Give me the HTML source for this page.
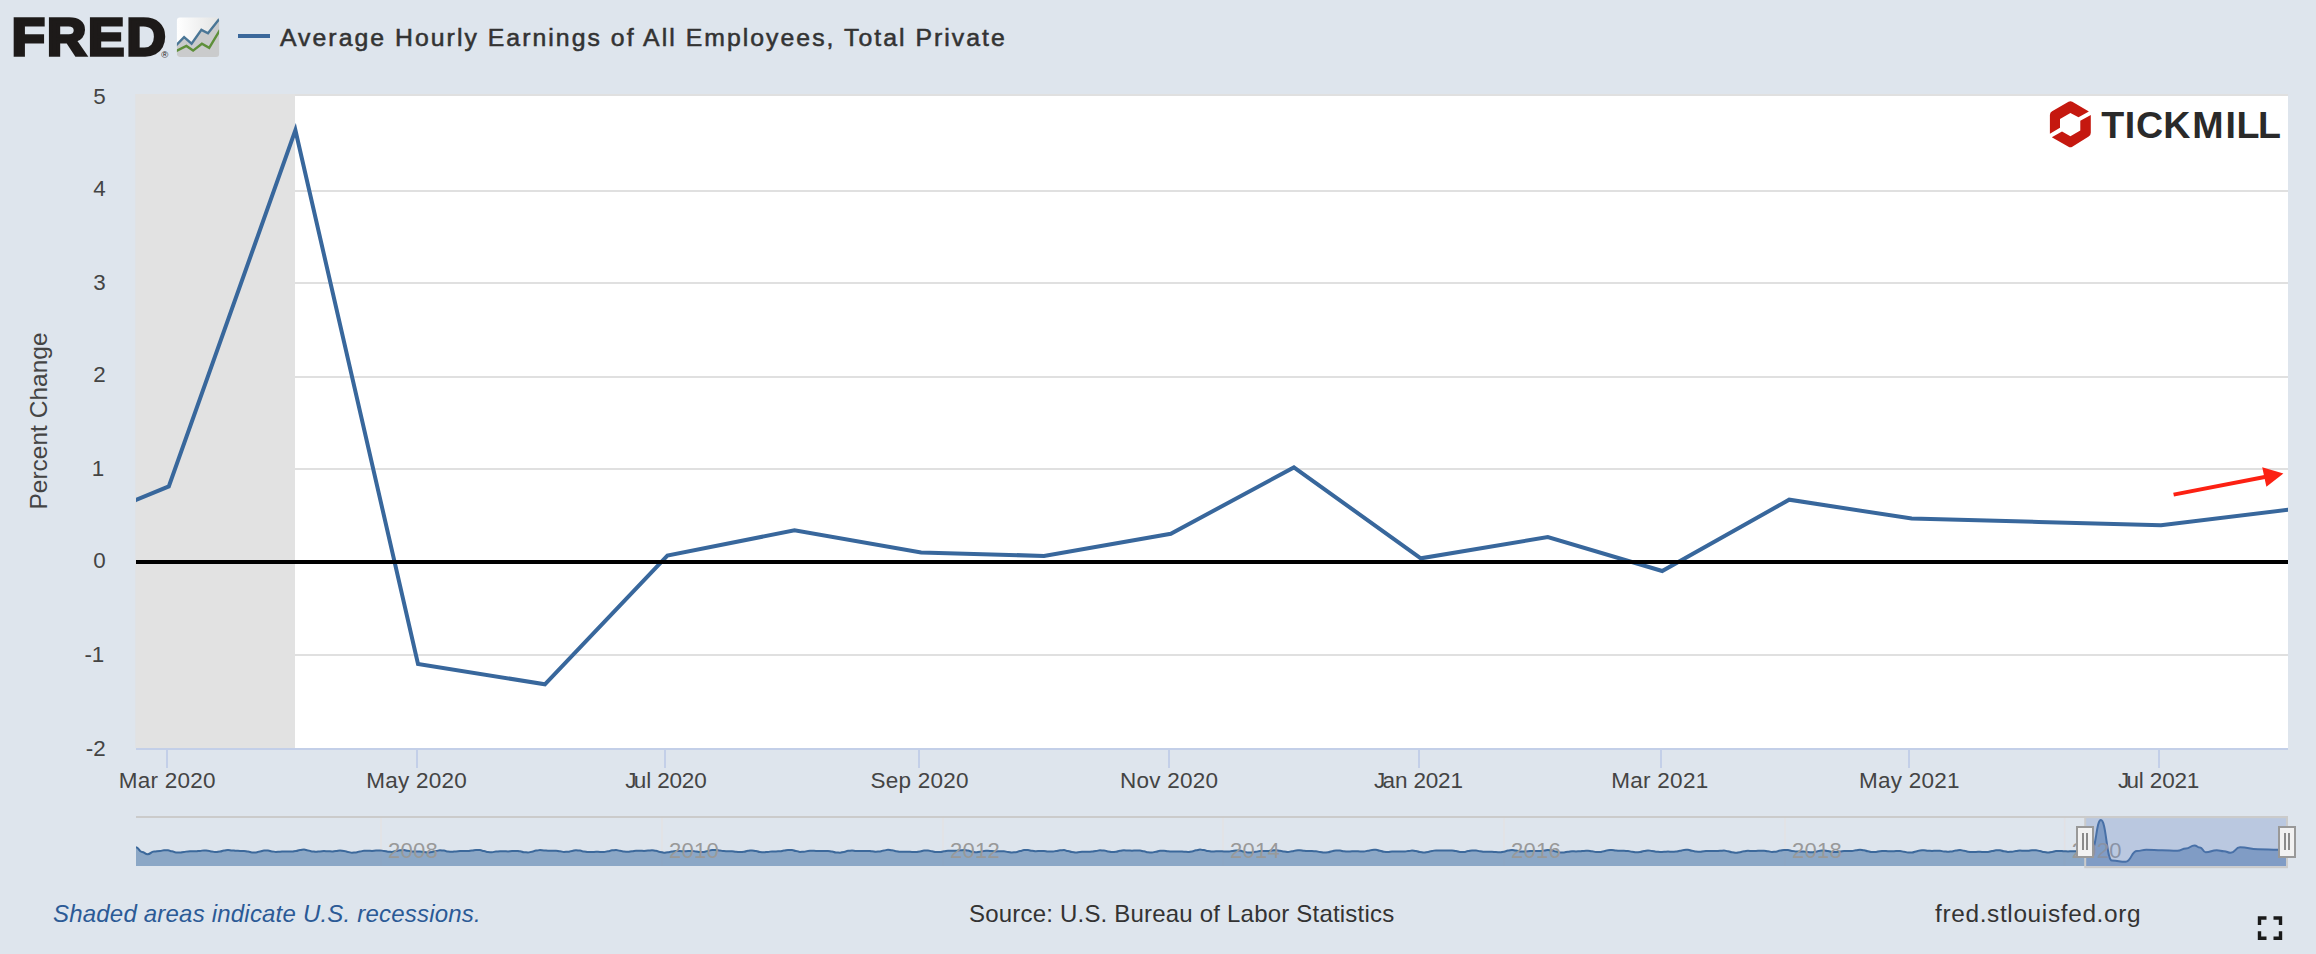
<!DOCTYPE html>
<html><head><meta charset="utf-8"><title>FRED Graph</title>
<style>
html,body{margin:0;padding:0;background:#dee5ed;}
body{width:2316px;height:954px;overflow:hidden;position:relative;font-family:"Liberation Sans",sans-serif;}
svg{position:absolute;left:0;top:0;display:block}
text{font-family:"Liberation Sans",sans-serif;}
.ax{font-size:22.5px;fill:#444;letter-spacing:0.25px}
.ay{font-size:22.4px;fill:#444}
.nv{font-size:22px;fill:#999;letter-spacing:0.3px}
.ttl{font-size:24.8px;fill:#333;letter-spacing:2.03px;stroke:#333;stroke-width:0.55px}
.yt{font-size:24.5px;fill:#444;}
.ft{font-size:24px;fill:#333;letter-spacing:0.2px}
.fti{font-size:24px;fill:#2b5a96;font-style:italic;letter-spacing:0.2px}
</style></head><body>
<svg width="2316" height="954" viewBox="0 0 2316 954">
<defs>
<linearGradient id="ig" x1="0" y1="0" x2="1" y2="0"><stop offset="0" stop-color="#ffffff"/><stop offset="0.1" stop-color="#fdfdfd"/><stop offset="1" stop-color="#e2e3e3"/></linearGradient>
<clipPath id="pc"><rect x="136" y="94" width="2152" height="654"/></clipPath>
</defs>
<rect width="2316" height="954" fill="#dee5ed"/>
<!-- plot -->
<rect x="136" y="94" width="2152" height="654" fill="#ffffff"/>
<rect x="136" y="94.0" width="2152" height="2" fill="#e0e0e0"/><rect x="136" y="190.0" width="2152" height="2" fill="#e0e0e0"/><rect x="136" y="282.0" width="2152" height="2" fill="#e0e0e0"/><rect x="136" y="376.0" width="2152" height="2" fill="#e0e0e0"/><rect x="136" y="468.0" width="2152" height="2" fill="#e0e0e0"/><rect x="136" y="654.0" width="2152" height="2" fill="#e0e0e0"/>
<rect x="135.3" y="94" width="159.7" height="654" fill="#e2e2e2"/>
<rect x="136" y="748" width="2152" height="2" fill="#c3cfe8"/>
<path d="M124.0 505.0 L136.0 500.0 L168.8 486.4 L295.4 130.2 L418.0 663.9 L544.9 684.3 L667.4 555.5 L794.5 530.3 L921.1 552.5 L1044.0 555.9 L1170.8 533.8 L1293.9 467.4 L1420.8 558.3 L1547.8 537.1 L1662.2 571.0 L1789.2 499.7 L1911.7 518.6 L2038.6 521.9 L2161.0 525.3 L2288.0 509.8 L2300.0 508.3" fill="none" stroke="#38679c" stroke-width="4" stroke-linejoin="miter" stroke-miterlimit="10" clip-path="url(#pc)"/>
<rect x="136" y="560" width="2152" height="4" fill="#000"/>
<text x="105.6" y="103.8" text-anchor="end" class="ay">5</text><text x="105.6" y="195.8" text-anchor="end" class="ay">4</text><text x="105.6" y="289.8" text-anchor="end" class="ay">3</text><text x="105.6" y="381.8" text-anchor="end" class="ay">2</text><text x="104.3" y="475.8" text-anchor="end" class="ay">1</text><text x="105.6" y="567.8" text-anchor="end" class="ay">0</text><text x="104.3" y="661.8" text-anchor="end" class="ay">-1</text><text x="105.6" y="755.8" text-anchor="end" class="ay">-2</text>
<rect x="166" y="749" width="2" height="19" fill="#c3cfe8"/><text x="167.2" y="788" text-anchor="middle" class="ax">Mar 2020</text><rect x="416" y="749" width="2" height="19" fill="#c3cfe8"/><text x="416.7" y="788" text-anchor="middle" class="ax">May 2020</text><rect x="664" y="749" width="2" height="19" fill="#c3cfe8"/><text x="666.1" y="788" text-anchor="middle" class="ax" dx="0 -3 -0.4 -0.4 -0.4 -0.4 -0.4 -0.5">Jul 2020</text><rect x="918" y="749" width="2" height="19" fill="#c3cfe8"/><text x="919.7" y="788" text-anchor="middle" class="ax">Sep 2020</text><rect x="1168" y="749" width="2" height="19" fill="#c3cfe8"/><text x="1169.1" y="788" text-anchor="middle" class="ax">Nov 2020</text><rect x="1418" y="749" width="2" height="19" fill="#c3cfe8"/><text x="1418.6" y="788" text-anchor="middle" class="ax" dx="0 -3 -0.4 -0.4 -0.4 -0.4 -0.4 -0.5">Jan 2021</text><rect x="1660" y="749" width="2" height="19" fill="#c3cfe8"/><text x="1659.9" y="788" text-anchor="middle" class="ax">Mar 2021</text><rect x="1908" y="749" width="2" height="19" fill="#c3cfe8"/><text x="1909.3" y="788" text-anchor="middle" class="ax">May 2021</text><rect x="2158" y="749" width="2" height="19" fill="#c3cfe8"/><text x="2158.8" y="788" text-anchor="middle" class="ax" dx="0 -3 -0.4 -0.4 -0.4 -0.4 -0.4 -0.5">Jul 2021</text>
<text transform="translate(46.6 421) rotate(-90)" text-anchor="middle" class="yt">Percent Change</text>
<!-- red arrow -->
<line x1="2173.6" y1="494.6" x2="2266" y2="476.7" stroke="#fc2113" stroke-width="4"/>
<polygon points="2283.4,473.4 2262.2,467.3 2266.4,486.8" fill="#fc2113"/>
<!-- header -->
<g id="fred">
<text transform="scale(1.04 1)" x="11.29 45.2 84.56 121.69" y="55.45" font-size="52.3" font-weight="700" fill="#1d1a19" stroke="#1d1a19" stroke-width="3.3" stroke-linejoin="miter">FRED</text>
<text x="161.2" y="58.2" font-size="9.5" fill="#1d1a19">®</text>
<clipPath id="ic"><rect x="176.9" y="17.5" width="42.2" height="39.5" rx="3"/></clipPath>
<g clip-path="url(#ic)">
<rect x="176" y="17" width="44" height="41" fill="url(#ig)"/>
<path d="M175 46 L176.9 44.6 L184.1 37.1 L191.6 43.7 L201.4 29.9 L208 33.3 L218.1 20.4 L221 17 L221 58 L175 58 Z" fill="#cacbcc"/>
<polyline points="175.5,46 184.1,37.1 191.6,43.7 201.4,29.9 208,33.3 218.1,20.4 220,18" fill="none" stroke="#4a7696" stroke-width="2.4" stroke-linejoin="miter"/>
<polyline points="175.5,51.3 186.4,46 193.1,50.6 201.9,43.7 209.2,47.8 219,31.6 220,30" fill="none" stroke="#5e8f3a" stroke-width="2.4" stroke-linejoin="miter"/>
</g>
</g>
<rect x="238" y="34" width="32" height="4" fill="#3b689b"/>
<text x="280" y="46.3" class="ttl">Average Hourly Earnings of All Employees, Total Private</text>
<!-- tickmill -->
<g id="tm">
<g fill="#c5180f">
<path d="M2052.1,111.3 L2068.5,101.8 Q2070.4,100.7 2072.3,101.8 L2088.9,111.5 L2078.5,117.3 L2070.4,112.9 L2060,119.1 L2060,127.7 L2049.9,133.7 L2049.9,115.1 Q2049.9,112.6 2052.1,111.3 Z"/>
<path d="M2090.8,115 L2090.8,132.8 Q2090.8,135.3 2088.7,136.6 L2072.3,146.65 Q2070.4,147.8 2068.5,146.7 L2051.8,137.3 L2062,131.5 L2070.4,136.2 L2080.3,130.5 L2080.3,120.8 Z"/>
</g>
<text x="2101.3 2124.7 2136 2163.3 2192.2 2225.6 2236.4 2258" y="137.6" font-size="37.6" font-weight="700" fill="#2a2a2a">TICKMILL</text>
</g>
<!-- navigator -->
<rect x="136" y="816" width="2152" height="2" fill="#cbcbcb"/>
<rect x="380.25" y="818" width="1.5" height="48" fill="#e6dfdf" fill-opacity="0.7"/><rect x="661.25" y="818" width="1.5" height="48" fill="#e6dfdf" fill-opacity="0.7"/><rect x="942.25" y="818" width="1.5" height="48" fill="#e6dfdf" fill-opacity="0.7"/><rect x="1222.25" y="818" width="1.5" height="48" fill="#e6dfdf" fill-opacity="0.7"/><rect x="1503.25" y="818" width="1.5" height="48" fill="#e6dfdf" fill-opacity="0.7"/><rect x="1784.25" y="818" width="1.5" height="48" fill="#e6dfdf" fill-opacity="0.7"/><rect x="2063.95" y="818" width="1.5" height="48" fill="#e6dfdf" fill-opacity="0.7"/>
<path d="M136.0 847.3 C139.0 847.3 139.0 852.0 142.0 852.0 C144.8 852.0 144.8 854.2 147.7 854.2 C150.8 854.2 150.8 851.5 154.0 851.5 C157.0 851.5 157.0 850.9 160.0 850.9 C162.0 850.9 162.0 850.3 164.0 850.3 C166.0 850.3 166.0 850.3 168.0 850.3 C170.0 850.3 170.0 851.3 172.0 851.3 C174.0 851.3 174.0 852.4 176.0 852.4 C178.0 852.4 178.0 852.6 180.0 852.6 C182.0 852.6 182.0 851.9 184.0 851.9 C186.0 851.9 186.0 851.4 188.0 851.4 C190.0 851.4 190.0 851.3 192.0 851.3 C194.0 851.3 194.0 851.3 196.0 851.3 C198.0 851.3 198.0 850.9 200.0 850.9 C202.0 850.9 202.0 850.4 204.0 850.4 C206.0 850.4 206.0 850.7 208.0 850.7 C210.0 850.7 210.0 851.6 212.0 851.6 C214.0 851.6 214.0 852.1 216.0 852.1 C218.0 852.1 218.0 851.5 220.0 851.5 C222.0 851.5 222.0 850.5 224.0 850.5 C226.0 850.5 226.0 850.0 228.0 850.0 C230.0 850.0 230.0 850.4 232.0 850.4 C234.0 850.4 234.0 850.8 236.0 850.8 C238.0 850.8 238.0 850.9 240.0 850.9 C242.0 850.9 242.0 851.0 244.0 851.0 C246.0 851.0 246.0 851.6 248.0 851.6 C250.0 851.6 250.0 852.4 252.0 852.4 C254.0 852.4 254.0 852.4 256.0 852.4 C258.0 852.4 258.0 851.4 260.0 851.4 C262.0 851.4 262.0 850.6 264.0 850.6 C266.0 850.6 266.0 850.6 268.0 850.6 C270.0 850.6 270.0 851.4 272.0 851.4 C274.0 851.4 274.0 851.9 276.0 851.9 C278.0 851.9 278.0 851.7 280.0 851.7 C282.0 851.7 282.0 851.4 284.0 851.4 C286.0 851.4 286.0 851.6 288.0 851.6 C290.0 851.6 290.0 851.6 292.0 851.6 C294.0 851.6 294.0 851.0 296.0 851.0 C298.0 851.0 298.0 850.0 300.0 850.0 C302.0 850.0 302.0 849.6 304.0 849.6 C306.0 849.6 306.0 850.4 308.0 850.4 C310.0 850.4 310.0 851.4 312.0 851.4 C314.0 851.4 314.0 851.8 316.0 851.8 C318.0 851.8 318.0 851.4 320.0 851.4 C322.0 851.4 322.0 851.1 324.0 851.1 C326.0 851.1 326.0 851.3 328.0 851.3 C330.0 851.3 330.0 851.4 332.0 851.4 C334.0 851.4 334.0 851.0 336.0 851.0 C338.0 851.0 338.0 850.6 340.0 850.6 C342.0 850.6 342.0 850.9 344.0 850.9 C346.0 850.9 346.0 852.0 348.0 852.0 C350.0 852.0 350.0 852.7 352.0 852.7 C354.0 852.7 354.0 852.4 356.0 852.4 C358.0 852.4 358.0 851.4 360.0 851.4 C362.0 851.4 362.0 850.8 364.0 850.8 C366.0 850.8 366.0 850.8 368.0 850.8 C370.0 850.8 370.0 850.9 372.0 850.9 C374.0 850.9 374.0 850.6 376.0 850.6 C378.0 850.6 378.0 850.4 380.0 850.4 C382.0 850.4 382.0 850.9 384.0 850.9 C386.0 850.9 386.0 851.7 388.0 851.7 C390.0 851.7 390.0 851.9 392.0 851.9 C394.0 851.9 394.0 851.1 396.0 851.1 C398.0 851.1 398.0 850.2 400.0 850.2 C402.0 850.2 402.0 850.1 404.0 850.1 C406.0 850.1 406.0 850.8 408.0 850.8 C410.0 850.8 410.0 851.4 412.0 851.4 C414.0 851.4 414.0 851.5 416.0 851.5 C418.0 851.5 418.0 851.6 420.0 851.6 C422.0 851.6 422.0 852.0 424.0 852.0 C426.0 852.0 426.0 852.4 428.0 852.4 C430.0 852.4 430.0 852.0 432.0 852.0 C434.0 852.0 434.0 850.9 436.0 850.9 C438.0 850.9 438.0 850.3 440.0 850.3 C442.0 850.3 442.0 850.6 444.0 850.6 C446.0 850.6 446.0 851.5 448.0 851.5 C450.0 851.5 450.0 851.8 452.0 851.8 C454.0 851.8 454.0 851.4 456.0 851.4 C458.0 851.4 458.0 851.1 460.0 851.1 C462.0 851.1 462.0 851.1 464.0 851.1 C466.0 851.1 466.0 851.1 468.0 851.1 C470.0 851.1 470.0 850.5 472.0 850.5 C474.0 850.5 474.0 849.9 476.0 849.9 C478.0 849.9 478.0 850.0 480.0 850.0 C482.0 850.0 482.0 851.1 484.0 851.1 C486.0 851.1 486.0 852.1 488.0 852.1 C490.0 852.1 490.0 852.2 492.0 852.2 C494.0 852.2 494.0 851.6 496.0 851.6 C498.0 851.6 498.0 851.2 500.0 851.2 C502.0 851.2 502.0 851.3 504.0 851.3 C506.0 851.3 506.0 851.4 508.0 851.4 C510.0 851.4 510.0 851.1 512.0 851.1 C514.0 851.1 514.0 850.9 516.0 850.9 C518.0 850.9 518.0 851.3 520.0 851.3 C522.0 851.3 522.0 852.2 524.0 852.2 C526.0 852.2 526.0 852.5 528.0 852.5 C530.0 852.5 530.0 851.7 532.0 851.7 C534.0 851.7 534.0 850.6 536.0 850.6 C538.0 850.6 538.0 850.1 540.0 850.1 C542.0 850.1 542.0 850.4 544.0 850.4 C546.0 850.4 546.0 850.7 548.0 850.7 C550.0 850.7 550.0 850.7 552.0 850.7 C554.0 850.7 554.0 850.7 556.0 850.7 C558.0 850.7 558.0 851.3 560.0 851.3 C562.0 851.3 562.0 851.9 564.0 851.9 C566.0 851.9 566.0 851.8 568.0 851.8 C570.0 851.8 570.0 850.9 572.0 850.9 C574.0 850.9 574.0 850.2 576.0 850.2 C578.0 850.2 578.0 850.6 580.0 850.6 C582.0 850.6 582.0 851.5 584.0 851.5 C586.0 851.5 586.0 852.1 588.0 852.1 C590.0 852.1 590.0 852.0 592.0 852.0 C594.0 852.0 594.0 851.8 596.0 851.8 C598.0 851.8 598.0 851.9 600.0 851.9 C602.0 851.9 602.0 852.0 604.0 852.0 C606.0 852.0 606.0 851.3 608.0 851.3 C610.0 851.3 610.0 850.3 612.0 850.3 C614.0 850.3 614.0 850.0 616.0 850.0 C618.0 850.0 618.0 850.7 620.0 850.7 C622.0 850.7 622.0 851.6 624.0 851.6 C626.0 851.6 626.0 851.7 628.0 851.7 C630.0 851.7 630.0 851.2 632.0 851.2 C634.0 851.2 634.0 850.7 636.0 850.7 C638.0 850.7 638.0 850.8 640.0 850.8 C642.0 850.8 642.0 850.9 644.0 850.9 C646.0 850.9 646.0 850.6 648.0 850.6 C650.0 850.6 650.0 850.3 652.0 850.3 C654.0 850.3 654.0 850.8 656.0 850.8 C658.0 850.8 658.0 851.9 660.0 851.9 C662.0 851.9 662.0 852.7 664.0 852.7 C666.0 852.7 666.0 852.3 668.0 852.3 C670.0 852.3 670.0 851.4 672.0 851.4 C674.0 851.4 674.0 851.0 676.0 851.0 C678.0 851.0 678.0 851.1 680.0 851.1 C682.0 851.1 682.0 851.3 684.0 851.3 C686.0 851.3 686.0 851.1 688.0 851.1 C690.0 851.1 690.0 850.9 692.0 850.9 C694.0 850.9 694.0 851.4 696.0 851.4 C698.0 851.4 698.0 852.0 700.0 852.0 C702.0 852.0 702.0 851.9 704.0 851.9 C706.0 851.9 706.0 850.9 708.0 850.9 C710.0 850.9 710.0 849.9 712.0 849.9 C714.0 849.9 714.0 849.9 716.0 849.9 C718.0 849.9 718.0 850.6 720.0 850.6 C722.0 850.6 722.0 851.1 724.0 851.1 C726.0 851.1 726.0 851.2 728.0 851.2 C730.0 851.2 730.0 851.2 732.0 851.2 C734.0 851.2 734.0 851.7 736.0 851.7 C738.0 851.7 738.0 852.1 740.0 852.1 C742.0 852.1 742.0 851.7 744.0 851.7 C746.0 851.7 746.0 850.8 748.0 850.8 C750.0 850.8 750.0 850.4 752.0 850.4 C754.0 850.4 754.0 851.0 756.0 851.0 C758.0 851.0 758.0 852.0 760.0 852.0 C762.0 852.0 762.0 852.3 764.0 852.3 C766.0 852.3 766.0 851.9 768.0 851.9 C770.0 851.9 770.0 851.4 772.0 851.4 C774.0 851.4 774.0 851.4 776.0 851.4 C778.0 851.4 778.0 851.3 780.0 851.3 C782.0 851.3 782.0 850.6 784.0 850.6 C786.0 850.6 786.0 849.9 788.0 849.9 C790.0 849.9 790.0 850.0 792.0 850.0 C794.0 850.0 794.0 851.0 796.0 851.0 C798.0 851.0 798.0 851.9 800.0 851.9 C802.0 851.9 802.0 851.8 804.0 851.8 C806.0 851.8 806.0 851.0 808.0 851.0 C810.0 851.0 810.0 850.7 812.0 850.7 C814.0 850.7 814.0 850.9 816.0 850.9 C818.0 850.9 818.0 851.1 820.0 851.1 C822.0 851.1 822.0 850.9 824.0 850.9 C826.0 850.9 826.0 850.9 828.0 850.9 C830.0 850.9 830.0 851.5 832.0 851.5 C834.0 851.5 834.0 852.5 836.0 852.5 C838.0 852.5 838.0 852.7 840.0 852.7 C842.0 852.7 842.0 851.9 844.0 851.9 C846.0 851.9 846.0 850.8 848.0 850.8 C850.0 850.8 850.0 850.5 852.0 850.5 C854.0 850.5 854.0 850.9 856.0 850.9 C858.0 850.9 858.0 851.1 860.0 851.1 C862.0 851.1 862.0 851.0 864.0 851.0 C866.0 851.0 866.0 850.9 868.0 850.9 C870.0 850.9 870.0 851.3 872.0 851.3 C874.0 851.3 874.0 851.7 876.0 851.7 C878.0 851.7 878.0 851.4 880.0 851.4 C882.0 851.4 882.0 850.4 884.0 850.4 C886.0 850.4 886.0 849.8 888.0 849.8 C890.0 849.8 890.0 850.2 892.0 850.2 C894.0 850.2 894.0 851.2 896.0 851.2 C898.0 851.2 898.0 851.8 900.0 851.8 C902.0 851.8 902.0 851.7 904.0 851.7 C906.0 851.7 906.0 851.7 908.0 851.7 C910.0 851.7 910.0 851.9 912.0 851.9 C914.0 851.9 914.0 852.0 916.0 852.0 C918.0 852.0 918.0 851.4 920.0 851.4 C922.0 851.4 922.0 850.6 924.0 850.6 C926.0 850.6 926.0 850.5 928.0 850.5 C930.0 850.5 930.0 851.3 932.0 851.3 C934.0 851.3 934.0 852.1 936.0 852.1 C938.0 852.1 938.0 852.1 940.0 852.1 C942.0 852.1 942.0 851.3 944.0 851.3 C946.0 851.3 946.0 850.8 948.0 850.8 C950.0 850.8 950.0 850.8 952.0 850.8 C954.0 850.8 954.0 850.7 956.0 850.7 C958.0 850.7 958.0 850.3 960.0 850.3 C962.0 850.3 962.0 850.0 964.0 850.0 C966.0 850.0 966.0 850.5 968.0 850.5 C970.0 850.5 970.0 851.7 972.0 851.7 C974.0 851.7 974.0 852.3 976.0 852.3 C978.0 852.3 978.0 851.8 980.0 851.8 C982.0 851.8 982.0 851.0 984.0 851.0 C986.0 851.0 986.0 850.7 988.0 850.7 C990.0 850.7 990.0 851.1 992.0 851.1 C994.0 851.1 994.0 851.4 996.0 851.4 C998.0 851.4 998.0 851.3 1000.0 851.3 C1002.0 851.3 1002.0 851.3 1004.0 851.3 C1006.0 851.3 1006.0 851.9 1008.0 851.9 C1010.0 851.9 1010.0 852.5 1012.0 852.5 C1014.0 852.5 1014.0 852.2 1016.0 852.2 C1018.0 852.2 1018.0 851.1 1020.0 851.1 C1022.0 851.1 1022.0 850.1 1024.0 850.1 C1026.0 850.1 1026.0 850.1 1028.0 850.1 C1030.0 850.1 1030.0 850.8 1032.0 850.8 C1034.0 850.8 1034.0 851.2 1036.0 851.2 C1038.0 851.2 1038.0 851.0 1040.0 851.0 C1042.0 851.0 1042.0 851.0 1044.0 851.0 C1046.0 851.0 1046.0 851.4 1048.0 851.4 C1050.0 851.4 1050.0 851.6 1052.0 851.6 C1054.0 851.6 1054.0 851.1 1056.0 851.1 C1058.0 851.1 1058.0 850.3 1060.0 850.3 C1062.0 850.3 1062.0 850.1 1064.0 850.1 C1066.0 850.1 1066.0 851.0 1068.0 851.0 C1070.0 851.0 1070.0 852.0 1072.0 852.0 C1074.0 852.0 1074.0 852.4 1076.0 852.4 C1078.0 852.4 1078.0 852.0 1080.0 852.0 C1082.0 852.0 1082.0 851.7 1084.0 851.7 C1086.0 851.7 1086.0 851.7 1088.0 851.7 C1090.0 851.7 1090.0 851.6 1092.0 851.6 C1094.0 851.6 1094.0 850.9 1096.0 850.9 C1098.0 850.9 1098.0 850.3 1100.0 850.3 C1102.0 850.3 1102.0 850.5 1104.0 850.5 C1106.0 850.5 1106.0 851.4 1108.0 851.4 C1110.0 851.4 1110.0 852.1 1112.0 852.1 C1114.0 852.1 1114.0 851.7 1116.0 851.7 C1118.0 851.7 1118.0 850.8 1120.0 850.8 C1122.0 850.8 1122.0 850.3 1124.0 850.3 C1126.0 850.3 1126.0 850.5 1128.0 850.5 C1130.0 850.5 1130.0 850.7 1132.0 850.7 C1134.0 850.7 1134.0 850.5 1136.0 850.5 C1138.0 850.5 1138.0 850.6 1140.0 850.6 C1142.0 850.6 1142.0 851.3 1144.0 851.3 C1146.0 851.3 1146.0 852.3 1148.0 852.3 C1150.0 852.3 1150.0 852.5 1152.0 852.5 C1154.0 852.5 1154.0 851.7 1156.0 851.7 C1158.0 851.7 1158.0 850.8 1160.0 850.8 C1162.0 850.8 1162.0 850.7 1164.0 850.7 C1166.0 850.7 1166.0 851.3 1168.0 851.3 C1170.0 851.3 1170.0 851.6 1172.0 851.6 C1174.0 851.6 1174.0 851.5 1176.0 851.5 C1178.0 851.5 1178.0 851.4 1180.0 851.4 C1182.0 851.4 1182.0 851.7 1184.0 851.7 C1186.0 851.7 1186.0 852.0 1188.0 852.0 C1190.0 852.0 1190.0 851.4 1192.0 851.4 C1194.0 851.4 1194.0 850.3 1196.0 850.3 C1198.0 850.3 1198.0 849.6 1200.0 849.6 C1202.0 849.6 1202.0 850.1 1204.0 850.1 C1206.0 850.1 1206.0 851.1 1208.0 851.1 C1210.0 851.1 1210.0 851.5 1212.0 851.5 C1214.0 851.5 1214.0 851.3 1216.0 851.3 C1218.0 851.3 1218.0 851.2 1220.0 851.2 C1222.0 851.2 1222.0 851.5 1224.0 851.5 C1226.0 851.5 1226.0 851.6 1228.0 851.6 C1230.0 851.6 1230.0 851.1 1232.0 851.1 C1234.0 851.1 1234.0 850.5 1236.0 850.5 C1238.0 850.5 1238.0 850.6 1240.0 850.6 C1242.0 850.6 1242.0 851.7 1244.0 851.7 C1246.0 851.7 1246.0 852.5 1248.0 852.5 C1250.0 852.5 1250.0 852.4 1252.0 852.4 C1254.0 852.4 1254.0 851.7 1256.0 851.7 C1258.0 851.7 1258.0 851.1 1260.0 851.1 C1262.0 851.1 1262.0 851.1 1264.0 851.1 C1266.0 851.1 1266.0 851.0 1268.0 851.0 C1270.0 851.0 1270.0 850.5 1272.0 850.5 C1274.0 850.5 1274.0 850.2 1276.0 850.2 C1278.0 850.2 1278.0 850.7 1280.0 850.7 C1282.0 850.7 1282.0 851.6 1284.0 851.6 C1286.0 851.6 1286.0 852.0 1288.0 852.0 C1290.0 852.0 1290.0 851.3 1292.0 851.3 C1294.0 851.3 1294.0 850.4 1296.0 850.4 C1298.0 850.4 1298.0 850.2 1300.0 850.2 C1302.0 850.2 1302.0 850.7 1304.0 850.7 C1306.0 850.7 1306.0 851.1 1308.0 851.1 C1310.0 851.1 1310.0 851.1 1312.0 851.1 C1314.0 851.1 1314.0 851.3 1316.0 851.3 C1318.0 851.3 1318.0 852.0 1320.0 852.0 C1322.0 852.0 1322.0 852.6 1324.0 852.6 C1326.0 852.6 1326.0 852.3 1328.0 852.3 C1330.0 852.3 1330.0 851.2 1332.0 851.2 C1334.0 851.2 1334.0 850.4 1336.0 850.4 C1338.0 850.4 1338.0 850.6 1340.0 850.6 C1342.0 850.6 1342.0 851.3 1344.0 851.3 C1346.0 851.3 1346.0 851.6 1348.0 851.6 C1350.0 851.6 1350.0 851.3 1352.0 851.3 C1354.0 851.3 1354.0 851.2 1356.0 851.2 C1358.0 851.2 1358.0 851.4 1360.0 851.4 C1362.0 851.4 1362.0 851.4 1364.0 851.4 C1366.0 851.4 1366.0 850.8 1368.0 850.8 C1370.0 850.8 1370.0 849.9 1372.0 849.9 C1374.0 849.9 1374.0 849.8 1376.0 849.8 C1378.0 849.8 1378.0 850.7 1380.0 850.7 C1382.0 850.7 1382.0 851.8 1384.0 851.8 C1386.0 851.8 1386.0 852.0 1388.0 852.0 C1390.0 852.0 1390.0 851.6 1392.0 851.6 C1394.0 851.6 1394.0 851.4 1396.0 851.4 C1398.0 851.4 1398.0 851.6 1400.0 851.6 C1402.0 851.6 1402.0 851.6 1404.0 851.6 C1406.0 851.6 1406.0 851.1 1408.0 851.1 C1410.0 851.1 1410.0 850.6 1412.0 850.6 C1414.0 850.6 1414.0 851.0 1416.0 851.0 C1418.0 851.0 1418.0 852.0 1420.0 852.0 C1422.0 852.0 1422.0 852.5 1424.0 852.5 C1426.0 852.5 1426.0 852.0 1428.0 852.0 C1430.0 852.0 1430.0 850.9 1432.0 850.9 C1434.0 850.9 1434.0 850.4 1436.0 850.4 C1438.0 850.4 1438.0 850.6 1440.0 850.6 C1442.0 850.6 1442.0 850.6 1444.0 850.6 C1446.0 850.6 1446.0 850.4 1448.0 850.4 C1450.0 850.4 1450.0 850.4 1452.0 850.4 C1454.0 850.4 1454.0 851.1 1456.0 851.1 C1458.0 851.1 1458.0 851.9 1460.0 851.9 C1462.0 851.9 1462.0 852.0 1464.0 852.0 C1466.0 852.0 1466.0 851.1 1468.0 851.1 C1470.0 851.1 1470.0 850.4 1472.0 850.4 C1474.0 850.4 1474.0 850.5 1476.0 850.5 C1478.0 850.5 1478.0 851.2 1480.0 851.2 C1482.0 851.2 1482.0 851.7 1484.0 851.7 C1486.0 851.7 1486.0 851.7 1488.0 851.7 C1490.0 851.7 1490.0 851.7 1492.0 851.7 C1494.0 851.7 1494.0 852.1 1496.0 852.1 C1498.0 852.1 1498.0 852.3 1500.0 852.3 C1502.0 852.3 1502.0 851.7 1504.0 851.7 C1506.0 851.7 1506.0 850.5 1508.0 850.5 C1510.0 850.5 1510.0 850.0 1512.0 850.0 C1514.0 850.0 1514.0 850.5 1516.0 850.5 C1518.0 850.5 1518.0 851.4 1520.0 851.4 C1522.0 851.4 1522.0 851.6 1524.0 851.6 C1526.0 851.6 1526.0 851.2 1528.0 851.2 C1530.0 851.2 1530.0 850.9 1532.0 850.9 C1534.0 850.9 1534.0 851.1 1536.0 851.1 C1538.0 851.1 1538.0 851.1 1540.0 851.1 C1542.0 851.1 1542.0 850.6 1544.0 850.6 C1546.0 850.6 1546.0 850.0 1548.0 850.0 C1550.0 850.0 1550.0 850.4 1552.0 850.4 C1554.0 850.4 1554.0 851.6 1556.0 851.6 C1558.0 851.6 1558.0 852.5 1560.0 852.5 C1562.0 852.5 1562.0 852.4 1564.0 852.4 C1566.0 852.4 1566.0 851.7 1568.0 851.7 C1570.0 851.7 1570.0 851.3 1572.0 851.3 C1574.0 851.3 1574.0 851.4 1576.0 851.4 C1578.0 851.4 1578.0 851.3 1580.0 851.3 C1582.0 851.3 1582.0 850.9 1584.0 850.9 C1586.0 850.9 1586.0 850.7 1588.0 850.7 C1590.0 850.7 1590.0 851.2 1592.0 851.2 C1594.0 851.2 1594.0 852.0 1596.0 852.0 C1598.0 852.0 1598.0 852.1 1600.0 852.1 C1602.0 852.1 1602.0 851.2 1604.0 851.2 C1606.0 851.2 1606.0 850.2 1608.0 850.2 C1610.0 850.2 1610.0 850.0 1612.0 850.0 C1614.0 850.0 1614.0 850.5 1616.0 850.5 C1618.0 850.5 1618.0 850.8 1620.0 850.8 C1622.0 850.8 1622.0 850.8 1624.0 850.8 C1626.0 850.8 1626.0 851.0 1628.0 851.0 C1630.0 851.0 1630.0 851.7 1632.0 851.7 C1634.0 851.7 1634.0 852.3 1636.0 852.3 C1638.0 852.3 1638.0 852.0 1640.0 852.0 C1642.0 852.0 1642.0 851.0 1644.0 851.0 C1646.0 851.0 1646.0 850.4 1648.0 850.4 C1650.0 850.4 1650.0 850.9 1652.0 850.9 C1654.0 850.9 1654.0 851.7 1656.0 851.7 C1658.0 851.7 1658.0 852.0 1660.0 852.0 C1662.0 852.0 1662.0 851.8 1664.0 851.8 C1666.0 851.8 1666.0 851.6 1668.0 851.6 C1670.0 851.6 1670.0 851.7 1672.0 851.7 C1674.0 851.7 1674.0 851.6 1676.0 851.6 C1678.0 851.6 1678.0 850.8 1680.0 850.8 C1682.0 850.8 1682.0 849.9 1684.0 849.9 C1686.0 849.9 1686.0 849.8 1688.0 849.8 C1690.0 849.8 1690.0 850.7 1692.0 850.7 C1694.0 850.7 1694.0 851.6 1696.0 851.6 C1698.0 851.6 1698.0 851.7 1700.0 851.7 C1702.0 851.7 1702.0 851.2 1704.0 851.2 C1706.0 851.2 1706.0 850.9 1708.0 850.9 C1710.0 850.9 1710.0 851.1 1712.0 851.1 C1714.0 851.1 1714.0 851.1 1716.0 851.1 C1718.0 851.1 1718.0 850.8 1720.0 850.8 C1722.0 850.8 1722.0 850.6 1724.0 850.6 C1726.0 850.6 1726.0 851.2 1728.0 851.2 C1730.0 851.2 1730.0 852.3 1732.0 852.3 C1734.0 852.3 1734.0 852.8 1736.0 852.8 C1738.0 852.8 1738.0 852.2 1740.0 852.2 C1742.0 852.2 1742.0 851.2 1744.0 851.2 C1746.0 851.2 1746.0 850.8 1748.0 850.8 C1750.0 850.8 1750.0 851.0 1752.0 851.0 C1754.0 851.0 1754.0 851.0 1756.0 851.0 C1758.0 851.0 1758.0 850.7 1760.0 850.7 C1762.0 850.7 1762.0 850.7 1764.0 850.7 C1766.0 850.7 1766.0 851.3 1768.0 851.3 C1770.0 851.3 1770.0 851.9 1772.0 851.9 C1774.0 851.9 1774.0 851.7 1776.0 851.7 C1778.0 851.7 1778.0 850.6 1780.0 850.6 C1782.0 850.6 1782.0 849.9 1784.0 849.9 C1786.0 849.9 1786.0 850.1 1788.0 850.1 C1790.0 850.1 1790.0 850.9 1792.0 850.9 C1794.0 850.9 1794.0 851.4 1796.0 851.4 C1798.0 851.4 1798.0 851.4 1800.0 851.4 C1802.0 851.4 1802.0 851.6 1804.0 851.6 C1806.0 851.6 1806.0 852.1 1808.0 852.1 C1810.0 852.1 1810.0 852.3 1812.0 852.3 C1814.0 852.3 1814.0 851.7 1816.0 851.7 C1818.0 851.7 1818.0 850.7 1820.0 850.7 C1822.0 850.7 1822.0 850.4 1824.0 850.4 C1826.0 850.4 1826.0 851.1 1828.0 851.1 C1830.0 851.1 1830.0 851.9 1832.0 851.9 C1834.0 851.9 1834.0 852.0 1836.0 852.0 C1838.0 852.0 1838.0 851.5 1840.0 851.5 C1842.0 851.5 1842.0 851.1 1844.0 851.1 C1846.0 851.1 1846.0 851.1 1848.0 851.1 C1850.0 851.1 1850.0 851.0 1852.0 851.0 C1854.0 851.0 1854.0 850.3 1856.0 850.3 C1858.0 850.3 1858.0 849.8 1860.0 849.8 C1862.0 849.8 1862.0 850.2 1864.0 850.2 C1866.0 850.2 1866.0 851.3 1868.0 851.3 C1870.0 851.3 1870.0 852.1 1872.0 852.1 C1874.0 852.1 1874.0 851.9 1876.0 851.9 C1878.0 851.9 1878.0 851.2 1880.0 851.2 C1882.0 851.2 1882.0 850.9 1884.0 850.9 C1886.0 850.9 1886.0 851.2 1888.0 851.2 C1890.0 851.2 1890.0 851.3 1892.0 851.3 C1894.0 851.3 1894.0 851.1 1896.0 851.1 C1898.0 851.1 1898.0 851.0 1900.0 851.0 C1902.0 851.0 1902.0 851.7 1904.0 851.7 C1906.0 851.7 1906.0 852.5 1908.0 852.5 C1910.0 852.5 1910.0 852.5 1912.0 852.5 C1914.0 852.5 1914.0 851.5 1916.0 851.5 C1918.0 851.5 1918.0 850.4 1920.0 850.4 C1922.0 850.4 1922.0 850.3 1924.0 850.3 C1926.0 850.3 1926.0 850.7 1928.0 850.7 C1930.0 850.7 1930.0 850.9 1932.0 850.9 C1934.0 850.9 1934.0 850.8 1936.0 850.8 C1938.0 850.8 1938.0 850.8 1940.0 850.8 C1942.0 850.8 1942.0 851.4 1944.0 851.4 C1946.0 851.4 1946.0 851.8 1948.0 851.8 C1950.0 851.8 1950.0 851.4 1952.0 851.4 C1954.0 851.4 1954.0 850.4 1956.0 850.4 C1958.0 850.4 1958.0 850.0 1960.0 850.0 C1962.0 850.0 1962.0 850.7 1964.0 850.7 C1966.0 850.7 1966.0 851.7 1968.0 851.7 C1970.0 851.7 1970.0 852.1 1972.0 852.1 C1974.0 852.1 1974.0 851.9 1976.0 851.9 C1978.0 851.9 1978.0 851.8 1980.0 851.8 C1982.0 851.8 1982.0 852.0 1984.0 852.0 C1986.0 852.0 1986.0 851.9 1988.0 851.9 C1990.0 851.9 1990.0 851.1 1992.0 851.1 C1994.0 851.1 1994.0 850.3 1996.0 850.3 C1998.0 850.3 1998.0 850.3 2000.0 850.3 C2002.0 850.3 2002.0 851.2 2004.0 851.2 C2006.0 851.2 2006.0 851.9 2008.0 851.9 C2010.0 851.9 2010.0 851.7 2012.0 851.7 C2014.0 851.7 2014.0 851.0 2016.0 851.0 C2018.0 851.0 2018.0 850.6 2020.0 850.6 C2022.0 850.6 2022.0 850.7 2024.0 850.7 C2026.0 850.7 2026.0 850.7 2028.0 850.7 C2030.0 850.7 2030.0 850.3 2032.0 850.3 C2034.0 850.3 2034.0 850.2 2036.0 850.2 C2038.0 850.2 2038.0 851.0 2040.0 851.0 C2042.0 851.0 2042.0 852.1 2044.0 852.1 C2046.0 852.1 2046.0 852.5 2048.0 852.5 C2050.0 852.5 2050.0 851.9 2052.0 851.9 C2054.0 851.9 2054.0 851.1 2056.0 851.1 C2058.0 851.1 2058.0 850.9 2060.0 850.9 C2062.0 850.9 2062.0 851.3 2064.0 851.3 C2066.0 851.3 2066.0 851.4 2068.0 851.4 C2070.0 851.4 2070.0 851.2 2072.0 851.2 C2074.0 851.2 2074.0 851.2 2076.0 851.2 C2080.0 851.2 2080.0 850.3 2084.0 850.3 C2087.8 850.3 2087.8 850.0 2091.5 850.0 C2096.2 850.0 2096.2 820.1 2100.9 820.1 C2106.4 820.1 2106.4 860.6 2112.0 860.6 C2118.8 860.6 2118.8 861.7 2125.7 861.7 C2131.3 861.7 2131.3 851.0 2137.0 851.0 C2141.7 851.0 2141.7 849.7 2146.3 849.7 C2154.2 849.7 2154.2 850.3 2162.0 850.3 C2169.7 850.3 2169.7 850.8 2177.3 850.8 C2181.7 850.8 2181.7 848.5 2186.0 848.5 C2190.2 848.5 2190.2 845.4 2194.5 845.4 C2197.2 845.4 2197.2 847.5 2200.0 847.5 C2202.8 847.5 2202.8 852.2 2205.6 852.2 C2211.2 852.2 2211.2 850.2 2216.8 850.2 C2220.4 850.2 2220.4 851.2 2224.0 851.2 C2227.3 851.2 2227.3 852.8 2230.6 852.8 C2235.3 852.8 2235.3 847.3 2240.0 847.3 C2249.0 847.3 2249.0 849.3 2258.0 849.3 C2268.2 849.3 2268.2 849.8 2278.4 849.8 C2283.2 849.8 2283.2 849.8 2288.0 849.8 L2288 866 L136 866 Z" fill="#6f92b8" fill-opacity="0.75"/>
<path d="M136.0 847.3 C139.0 847.3 139.0 852.0 142.0 852.0 C144.8 852.0 144.8 854.2 147.7 854.2 C150.8 854.2 150.8 851.5 154.0 851.5 C157.0 851.5 157.0 850.9 160.0 850.9 C162.0 850.9 162.0 850.3 164.0 850.3 C166.0 850.3 166.0 850.3 168.0 850.3 C170.0 850.3 170.0 851.3 172.0 851.3 C174.0 851.3 174.0 852.4 176.0 852.4 C178.0 852.4 178.0 852.6 180.0 852.6 C182.0 852.6 182.0 851.9 184.0 851.9 C186.0 851.9 186.0 851.4 188.0 851.4 C190.0 851.4 190.0 851.3 192.0 851.3 C194.0 851.3 194.0 851.3 196.0 851.3 C198.0 851.3 198.0 850.9 200.0 850.9 C202.0 850.9 202.0 850.4 204.0 850.4 C206.0 850.4 206.0 850.7 208.0 850.7 C210.0 850.7 210.0 851.6 212.0 851.6 C214.0 851.6 214.0 852.1 216.0 852.1 C218.0 852.1 218.0 851.5 220.0 851.5 C222.0 851.5 222.0 850.5 224.0 850.5 C226.0 850.5 226.0 850.0 228.0 850.0 C230.0 850.0 230.0 850.4 232.0 850.4 C234.0 850.4 234.0 850.8 236.0 850.8 C238.0 850.8 238.0 850.9 240.0 850.9 C242.0 850.9 242.0 851.0 244.0 851.0 C246.0 851.0 246.0 851.6 248.0 851.6 C250.0 851.6 250.0 852.4 252.0 852.4 C254.0 852.4 254.0 852.4 256.0 852.4 C258.0 852.4 258.0 851.4 260.0 851.4 C262.0 851.4 262.0 850.6 264.0 850.6 C266.0 850.6 266.0 850.6 268.0 850.6 C270.0 850.6 270.0 851.4 272.0 851.4 C274.0 851.4 274.0 851.9 276.0 851.9 C278.0 851.9 278.0 851.7 280.0 851.7 C282.0 851.7 282.0 851.4 284.0 851.4 C286.0 851.4 286.0 851.6 288.0 851.6 C290.0 851.6 290.0 851.6 292.0 851.6 C294.0 851.6 294.0 851.0 296.0 851.0 C298.0 851.0 298.0 850.0 300.0 850.0 C302.0 850.0 302.0 849.6 304.0 849.6 C306.0 849.6 306.0 850.4 308.0 850.4 C310.0 850.4 310.0 851.4 312.0 851.4 C314.0 851.4 314.0 851.8 316.0 851.8 C318.0 851.8 318.0 851.4 320.0 851.4 C322.0 851.4 322.0 851.1 324.0 851.1 C326.0 851.1 326.0 851.3 328.0 851.3 C330.0 851.3 330.0 851.4 332.0 851.4 C334.0 851.4 334.0 851.0 336.0 851.0 C338.0 851.0 338.0 850.6 340.0 850.6 C342.0 850.6 342.0 850.9 344.0 850.9 C346.0 850.9 346.0 852.0 348.0 852.0 C350.0 852.0 350.0 852.7 352.0 852.7 C354.0 852.7 354.0 852.4 356.0 852.4 C358.0 852.4 358.0 851.4 360.0 851.4 C362.0 851.4 362.0 850.8 364.0 850.8 C366.0 850.8 366.0 850.8 368.0 850.8 C370.0 850.8 370.0 850.9 372.0 850.9 C374.0 850.9 374.0 850.6 376.0 850.6 C378.0 850.6 378.0 850.4 380.0 850.4 C382.0 850.4 382.0 850.9 384.0 850.9 C386.0 850.9 386.0 851.7 388.0 851.7 C390.0 851.7 390.0 851.9 392.0 851.9 C394.0 851.9 394.0 851.1 396.0 851.1 C398.0 851.1 398.0 850.2 400.0 850.2 C402.0 850.2 402.0 850.1 404.0 850.1 C406.0 850.1 406.0 850.8 408.0 850.8 C410.0 850.8 410.0 851.4 412.0 851.4 C414.0 851.4 414.0 851.5 416.0 851.5 C418.0 851.5 418.0 851.6 420.0 851.6 C422.0 851.6 422.0 852.0 424.0 852.0 C426.0 852.0 426.0 852.4 428.0 852.4 C430.0 852.4 430.0 852.0 432.0 852.0 C434.0 852.0 434.0 850.9 436.0 850.9 C438.0 850.9 438.0 850.3 440.0 850.3 C442.0 850.3 442.0 850.6 444.0 850.6 C446.0 850.6 446.0 851.5 448.0 851.5 C450.0 851.5 450.0 851.8 452.0 851.8 C454.0 851.8 454.0 851.4 456.0 851.4 C458.0 851.4 458.0 851.1 460.0 851.1 C462.0 851.1 462.0 851.1 464.0 851.1 C466.0 851.1 466.0 851.1 468.0 851.1 C470.0 851.1 470.0 850.5 472.0 850.5 C474.0 850.5 474.0 849.9 476.0 849.9 C478.0 849.9 478.0 850.0 480.0 850.0 C482.0 850.0 482.0 851.1 484.0 851.1 C486.0 851.1 486.0 852.1 488.0 852.1 C490.0 852.1 490.0 852.2 492.0 852.2 C494.0 852.2 494.0 851.6 496.0 851.6 C498.0 851.6 498.0 851.2 500.0 851.2 C502.0 851.2 502.0 851.3 504.0 851.3 C506.0 851.3 506.0 851.4 508.0 851.4 C510.0 851.4 510.0 851.1 512.0 851.1 C514.0 851.1 514.0 850.9 516.0 850.9 C518.0 850.9 518.0 851.3 520.0 851.3 C522.0 851.3 522.0 852.2 524.0 852.2 C526.0 852.2 526.0 852.5 528.0 852.5 C530.0 852.5 530.0 851.7 532.0 851.7 C534.0 851.7 534.0 850.6 536.0 850.6 C538.0 850.6 538.0 850.1 540.0 850.1 C542.0 850.1 542.0 850.4 544.0 850.4 C546.0 850.4 546.0 850.7 548.0 850.7 C550.0 850.7 550.0 850.7 552.0 850.7 C554.0 850.7 554.0 850.7 556.0 850.7 C558.0 850.7 558.0 851.3 560.0 851.3 C562.0 851.3 562.0 851.9 564.0 851.9 C566.0 851.9 566.0 851.8 568.0 851.8 C570.0 851.8 570.0 850.9 572.0 850.9 C574.0 850.9 574.0 850.2 576.0 850.2 C578.0 850.2 578.0 850.6 580.0 850.6 C582.0 850.6 582.0 851.5 584.0 851.5 C586.0 851.5 586.0 852.1 588.0 852.1 C590.0 852.1 590.0 852.0 592.0 852.0 C594.0 852.0 594.0 851.8 596.0 851.8 C598.0 851.8 598.0 851.9 600.0 851.9 C602.0 851.9 602.0 852.0 604.0 852.0 C606.0 852.0 606.0 851.3 608.0 851.3 C610.0 851.3 610.0 850.3 612.0 850.3 C614.0 850.3 614.0 850.0 616.0 850.0 C618.0 850.0 618.0 850.7 620.0 850.7 C622.0 850.7 622.0 851.6 624.0 851.6 C626.0 851.6 626.0 851.7 628.0 851.7 C630.0 851.7 630.0 851.2 632.0 851.2 C634.0 851.2 634.0 850.7 636.0 850.7 C638.0 850.7 638.0 850.8 640.0 850.8 C642.0 850.8 642.0 850.9 644.0 850.9 C646.0 850.9 646.0 850.6 648.0 850.6 C650.0 850.6 650.0 850.3 652.0 850.3 C654.0 850.3 654.0 850.8 656.0 850.8 C658.0 850.8 658.0 851.9 660.0 851.9 C662.0 851.9 662.0 852.7 664.0 852.7 C666.0 852.7 666.0 852.3 668.0 852.3 C670.0 852.3 670.0 851.4 672.0 851.4 C674.0 851.4 674.0 851.0 676.0 851.0 C678.0 851.0 678.0 851.1 680.0 851.1 C682.0 851.1 682.0 851.3 684.0 851.3 C686.0 851.3 686.0 851.1 688.0 851.1 C690.0 851.1 690.0 850.9 692.0 850.9 C694.0 850.9 694.0 851.4 696.0 851.4 C698.0 851.4 698.0 852.0 700.0 852.0 C702.0 852.0 702.0 851.9 704.0 851.9 C706.0 851.9 706.0 850.9 708.0 850.9 C710.0 850.9 710.0 849.9 712.0 849.9 C714.0 849.9 714.0 849.9 716.0 849.9 C718.0 849.9 718.0 850.6 720.0 850.6 C722.0 850.6 722.0 851.1 724.0 851.1 C726.0 851.1 726.0 851.2 728.0 851.2 C730.0 851.2 730.0 851.2 732.0 851.2 C734.0 851.2 734.0 851.7 736.0 851.7 C738.0 851.7 738.0 852.1 740.0 852.1 C742.0 852.1 742.0 851.7 744.0 851.7 C746.0 851.7 746.0 850.8 748.0 850.8 C750.0 850.8 750.0 850.4 752.0 850.4 C754.0 850.4 754.0 851.0 756.0 851.0 C758.0 851.0 758.0 852.0 760.0 852.0 C762.0 852.0 762.0 852.3 764.0 852.3 C766.0 852.3 766.0 851.9 768.0 851.9 C770.0 851.9 770.0 851.4 772.0 851.4 C774.0 851.4 774.0 851.4 776.0 851.4 C778.0 851.4 778.0 851.3 780.0 851.3 C782.0 851.3 782.0 850.6 784.0 850.6 C786.0 850.6 786.0 849.9 788.0 849.9 C790.0 849.9 790.0 850.0 792.0 850.0 C794.0 850.0 794.0 851.0 796.0 851.0 C798.0 851.0 798.0 851.9 800.0 851.9 C802.0 851.9 802.0 851.8 804.0 851.8 C806.0 851.8 806.0 851.0 808.0 851.0 C810.0 851.0 810.0 850.7 812.0 850.7 C814.0 850.7 814.0 850.9 816.0 850.9 C818.0 850.9 818.0 851.1 820.0 851.1 C822.0 851.1 822.0 850.9 824.0 850.9 C826.0 850.9 826.0 850.9 828.0 850.9 C830.0 850.9 830.0 851.5 832.0 851.5 C834.0 851.5 834.0 852.5 836.0 852.5 C838.0 852.5 838.0 852.7 840.0 852.7 C842.0 852.7 842.0 851.9 844.0 851.9 C846.0 851.9 846.0 850.8 848.0 850.8 C850.0 850.8 850.0 850.5 852.0 850.5 C854.0 850.5 854.0 850.9 856.0 850.9 C858.0 850.9 858.0 851.1 860.0 851.1 C862.0 851.1 862.0 851.0 864.0 851.0 C866.0 851.0 866.0 850.9 868.0 850.9 C870.0 850.9 870.0 851.3 872.0 851.3 C874.0 851.3 874.0 851.7 876.0 851.7 C878.0 851.7 878.0 851.4 880.0 851.4 C882.0 851.4 882.0 850.4 884.0 850.4 C886.0 850.4 886.0 849.8 888.0 849.8 C890.0 849.8 890.0 850.2 892.0 850.2 C894.0 850.2 894.0 851.2 896.0 851.2 C898.0 851.2 898.0 851.8 900.0 851.8 C902.0 851.8 902.0 851.7 904.0 851.7 C906.0 851.7 906.0 851.7 908.0 851.7 C910.0 851.7 910.0 851.9 912.0 851.9 C914.0 851.9 914.0 852.0 916.0 852.0 C918.0 852.0 918.0 851.4 920.0 851.4 C922.0 851.4 922.0 850.6 924.0 850.6 C926.0 850.6 926.0 850.5 928.0 850.5 C930.0 850.5 930.0 851.3 932.0 851.3 C934.0 851.3 934.0 852.1 936.0 852.1 C938.0 852.1 938.0 852.1 940.0 852.1 C942.0 852.1 942.0 851.3 944.0 851.3 C946.0 851.3 946.0 850.8 948.0 850.8 C950.0 850.8 950.0 850.8 952.0 850.8 C954.0 850.8 954.0 850.7 956.0 850.7 C958.0 850.7 958.0 850.3 960.0 850.3 C962.0 850.3 962.0 850.0 964.0 850.0 C966.0 850.0 966.0 850.5 968.0 850.5 C970.0 850.5 970.0 851.7 972.0 851.7 C974.0 851.7 974.0 852.3 976.0 852.3 C978.0 852.3 978.0 851.8 980.0 851.8 C982.0 851.8 982.0 851.0 984.0 851.0 C986.0 851.0 986.0 850.7 988.0 850.7 C990.0 850.7 990.0 851.1 992.0 851.1 C994.0 851.1 994.0 851.4 996.0 851.4 C998.0 851.4 998.0 851.3 1000.0 851.3 C1002.0 851.3 1002.0 851.3 1004.0 851.3 C1006.0 851.3 1006.0 851.9 1008.0 851.9 C1010.0 851.9 1010.0 852.5 1012.0 852.5 C1014.0 852.5 1014.0 852.2 1016.0 852.2 C1018.0 852.2 1018.0 851.1 1020.0 851.1 C1022.0 851.1 1022.0 850.1 1024.0 850.1 C1026.0 850.1 1026.0 850.1 1028.0 850.1 C1030.0 850.1 1030.0 850.8 1032.0 850.8 C1034.0 850.8 1034.0 851.2 1036.0 851.2 C1038.0 851.2 1038.0 851.0 1040.0 851.0 C1042.0 851.0 1042.0 851.0 1044.0 851.0 C1046.0 851.0 1046.0 851.4 1048.0 851.4 C1050.0 851.4 1050.0 851.6 1052.0 851.6 C1054.0 851.6 1054.0 851.1 1056.0 851.1 C1058.0 851.1 1058.0 850.3 1060.0 850.3 C1062.0 850.3 1062.0 850.1 1064.0 850.1 C1066.0 850.1 1066.0 851.0 1068.0 851.0 C1070.0 851.0 1070.0 852.0 1072.0 852.0 C1074.0 852.0 1074.0 852.4 1076.0 852.4 C1078.0 852.4 1078.0 852.0 1080.0 852.0 C1082.0 852.0 1082.0 851.7 1084.0 851.7 C1086.0 851.7 1086.0 851.7 1088.0 851.7 C1090.0 851.7 1090.0 851.6 1092.0 851.6 C1094.0 851.6 1094.0 850.9 1096.0 850.9 C1098.0 850.9 1098.0 850.3 1100.0 850.3 C1102.0 850.3 1102.0 850.5 1104.0 850.5 C1106.0 850.5 1106.0 851.4 1108.0 851.4 C1110.0 851.4 1110.0 852.1 1112.0 852.1 C1114.0 852.1 1114.0 851.7 1116.0 851.7 C1118.0 851.7 1118.0 850.8 1120.0 850.8 C1122.0 850.8 1122.0 850.3 1124.0 850.3 C1126.0 850.3 1126.0 850.5 1128.0 850.5 C1130.0 850.5 1130.0 850.7 1132.0 850.7 C1134.0 850.7 1134.0 850.5 1136.0 850.5 C1138.0 850.5 1138.0 850.6 1140.0 850.6 C1142.0 850.6 1142.0 851.3 1144.0 851.3 C1146.0 851.3 1146.0 852.3 1148.0 852.3 C1150.0 852.3 1150.0 852.5 1152.0 852.5 C1154.0 852.5 1154.0 851.7 1156.0 851.7 C1158.0 851.7 1158.0 850.8 1160.0 850.8 C1162.0 850.8 1162.0 850.7 1164.0 850.7 C1166.0 850.7 1166.0 851.3 1168.0 851.3 C1170.0 851.3 1170.0 851.6 1172.0 851.6 C1174.0 851.6 1174.0 851.5 1176.0 851.5 C1178.0 851.5 1178.0 851.4 1180.0 851.4 C1182.0 851.4 1182.0 851.7 1184.0 851.7 C1186.0 851.7 1186.0 852.0 1188.0 852.0 C1190.0 852.0 1190.0 851.4 1192.0 851.4 C1194.0 851.4 1194.0 850.3 1196.0 850.3 C1198.0 850.3 1198.0 849.6 1200.0 849.6 C1202.0 849.6 1202.0 850.1 1204.0 850.1 C1206.0 850.1 1206.0 851.1 1208.0 851.1 C1210.0 851.1 1210.0 851.5 1212.0 851.5 C1214.0 851.5 1214.0 851.3 1216.0 851.3 C1218.0 851.3 1218.0 851.2 1220.0 851.2 C1222.0 851.2 1222.0 851.5 1224.0 851.5 C1226.0 851.5 1226.0 851.6 1228.0 851.6 C1230.0 851.6 1230.0 851.1 1232.0 851.1 C1234.0 851.1 1234.0 850.5 1236.0 850.5 C1238.0 850.5 1238.0 850.6 1240.0 850.6 C1242.0 850.6 1242.0 851.7 1244.0 851.7 C1246.0 851.7 1246.0 852.5 1248.0 852.5 C1250.0 852.5 1250.0 852.4 1252.0 852.4 C1254.0 852.4 1254.0 851.7 1256.0 851.7 C1258.0 851.7 1258.0 851.1 1260.0 851.1 C1262.0 851.1 1262.0 851.1 1264.0 851.1 C1266.0 851.1 1266.0 851.0 1268.0 851.0 C1270.0 851.0 1270.0 850.5 1272.0 850.5 C1274.0 850.5 1274.0 850.2 1276.0 850.2 C1278.0 850.2 1278.0 850.7 1280.0 850.7 C1282.0 850.7 1282.0 851.6 1284.0 851.6 C1286.0 851.6 1286.0 852.0 1288.0 852.0 C1290.0 852.0 1290.0 851.3 1292.0 851.3 C1294.0 851.3 1294.0 850.4 1296.0 850.4 C1298.0 850.4 1298.0 850.2 1300.0 850.2 C1302.0 850.2 1302.0 850.7 1304.0 850.7 C1306.0 850.7 1306.0 851.1 1308.0 851.1 C1310.0 851.1 1310.0 851.1 1312.0 851.1 C1314.0 851.1 1314.0 851.3 1316.0 851.3 C1318.0 851.3 1318.0 852.0 1320.0 852.0 C1322.0 852.0 1322.0 852.6 1324.0 852.6 C1326.0 852.6 1326.0 852.3 1328.0 852.3 C1330.0 852.3 1330.0 851.2 1332.0 851.2 C1334.0 851.2 1334.0 850.4 1336.0 850.4 C1338.0 850.4 1338.0 850.6 1340.0 850.6 C1342.0 850.6 1342.0 851.3 1344.0 851.3 C1346.0 851.3 1346.0 851.6 1348.0 851.6 C1350.0 851.6 1350.0 851.3 1352.0 851.3 C1354.0 851.3 1354.0 851.2 1356.0 851.2 C1358.0 851.2 1358.0 851.4 1360.0 851.4 C1362.0 851.4 1362.0 851.4 1364.0 851.4 C1366.0 851.4 1366.0 850.8 1368.0 850.8 C1370.0 850.8 1370.0 849.9 1372.0 849.9 C1374.0 849.9 1374.0 849.8 1376.0 849.8 C1378.0 849.8 1378.0 850.7 1380.0 850.7 C1382.0 850.7 1382.0 851.8 1384.0 851.8 C1386.0 851.8 1386.0 852.0 1388.0 852.0 C1390.0 852.0 1390.0 851.6 1392.0 851.6 C1394.0 851.6 1394.0 851.4 1396.0 851.4 C1398.0 851.4 1398.0 851.6 1400.0 851.6 C1402.0 851.6 1402.0 851.6 1404.0 851.6 C1406.0 851.6 1406.0 851.1 1408.0 851.1 C1410.0 851.1 1410.0 850.6 1412.0 850.6 C1414.0 850.6 1414.0 851.0 1416.0 851.0 C1418.0 851.0 1418.0 852.0 1420.0 852.0 C1422.0 852.0 1422.0 852.5 1424.0 852.5 C1426.0 852.5 1426.0 852.0 1428.0 852.0 C1430.0 852.0 1430.0 850.9 1432.0 850.9 C1434.0 850.9 1434.0 850.4 1436.0 850.4 C1438.0 850.4 1438.0 850.6 1440.0 850.6 C1442.0 850.6 1442.0 850.6 1444.0 850.6 C1446.0 850.6 1446.0 850.4 1448.0 850.4 C1450.0 850.4 1450.0 850.4 1452.0 850.4 C1454.0 850.4 1454.0 851.1 1456.0 851.1 C1458.0 851.1 1458.0 851.9 1460.0 851.9 C1462.0 851.9 1462.0 852.0 1464.0 852.0 C1466.0 852.0 1466.0 851.1 1468.0 851.1 C1470.0 851.1 1470.0 850.4 1472.0 850.4 C1474.0 850.4 1474.0 850.5 1476.0 850.5 C1478.0 850.5 1478.0 851.2 1480.0 851.2 C1482.0 851.2 1482.0 851.7 1484.0 851.7 C1486.0 851.7 1486.0 851.7 1488.0 851.7 C1490.0 851.7 1490.0 851.7 1492.0 851.7 C1494.0 851.7 1494.0 852.1 1496.0 852.1 C1498.0 852.1 1498.0 852.3 1500.0 852.3 C1502.0 852.3 1502.0 851.7 1504.0 851.7 C1506.0 851.7 1506.0 850.5 1508.0 850.5 C1510.0 850.5 1510.0 850.0 1512.0 850.0 C1514.0 850.0 1514.0 850.5 1516.0 850.5 C1518.0 850.5 1518.0 851.4 1520.0 851.4 C1522.0 851.4 1522.0 851.6 1524.0 851.6 C1526.0 851.6 1526.0 851.2 1528.0 851.2 C1530.0 851.2 1530.0 850.9 1532.0 850.9 C1534.0 850.9 1534.0 851.1 1536.0 851.1 C1538.0 851.1 1538.0 851.1 1540.0 851.1 C1542.0 851.1 1542.0 850.6 1544.0 850.6 C1546.0 850.6 1546.0 850.0 1548.0 850.0 C1550.0 850.0 1550.0 850.4 1552.0 850.4 C1554.0 850.4 1554.0 851.6 1556.0 851.6 C1558.0 851.6 1558.0 852.5 1560.0 852.5 C1562.0 852.5 1562.0 852.4 1564.0 852.4 C1566.0 852.4 1566.0 851.7 1568.0 851.7 C1570.0 851.7 1570.0 851.3 1572.0 851.3 C1574.0 851.3 1574.0 851.4 1576.0 851.4 C1578.0 851.4 1578.0 851.3 1580.0 851.3 C1582.0 851.3 1582.0 850.9 1584.0 850.9 C1586.0 850.9 1586.0 850.7 1588.0 850.7 C1590.0 850.7 1590.0 851.2 1592.0 851.2 C1594.0 851.2 1594.0 852.0 1596.0 852.0 C1598.0 852.0 1598.0 852.1 1600.0 852.1 C1602.0 852.1 1602.0 851.2 1604.0 851.2 C1606.0 851.2 1606.0 850.2 1608.0 850.2 C1610.0 850.2 1610.0 850.0 1612.0 850.0 C1614.0 850.0 1614.0 850.5 1616.0 850.5 C1618.0 850.5 1618.0 850.8 1620.0 850.8 C1622.0 850.8 1622.0 850.8 1624.0 850.8 C1626.0 850.8 1626.0 851.0 1628.0 851.0 C1630.0 851.0 1630.0 851.7 1632.0 851.7 C1634.0 851.7 1634.0 852.3 1636.0 852.3 C1638.0 852.3 1638.0 852.0 1640.0 852.0 C1642.0 852.0 1642.0 851.0 1644.0 851.0 C1646.0 851.0 1646.0 850.4 1648.0 850.4 C1650.0 850.4 1650.0 850.9 1652.0 850.9 C1654.0 850.9 1654.0 851.7 1656.0 851.7 C1658.0 851.7 1658.0 852.0 1660.0 852.0 C1662.0 852.0 1662.0 851.8 1664.0 851.8 C1666.0 851.8 1666.0 851.6 1668.0 851.6 C1670.0 851.6 1670.0 851.7 1672.0 851.7 C1674.0 851.7 1674.0 851.6 1676.0 851.6 C1678.0 851.6 1678.0 850.8 1680.0 850.8 C1682.0 850.8 1682.0 849.9 1684.0 849.9 C1686.0 849.9 1686.0 849.8 1688.0 849.8 C1690.0 849.8 1690.0 850.7 1692.0 850.7 C1694.0 850.7 1694.0 851.6 1696.0 851.6 C1698.0 851.6 1698.0 851.7 1700.0 851.7 C1702.0 851.7 1702.0 851.2 1704.0 851.2 C1706.0 851.2 1706.0 850.9 1708.0 850.9 C1710.0 850.9 1710.0 851.1 1712.0 851.1 C1714.0 851.1 1714.0 851.1 1716.0 851.1 C1718.0 851.1 1718.0 850.8 1720.0 850.8 C1722.0 850.8 1722.0 850.6 1724.0 850.6 C1726.0 850.6 1726.0 851.2 1728.0 851.2 C1730.0 851.2 1730.0 852.3 1732.0 852.3 C1734.0 852.3 1734.0 852.8 1736.0 852.8 C1738.0 852.8 1738.0 852.2 1740.0 852.2 C1742.0 852.2 1742.0 851.2 1744.0 851.2 C1746.0 851.2 1746.0 850.8 1748.0 850.8 C1750.0 850.8 1750.0 851.0 1752.0 851.0 C1754.0 851.0 1754.0 851.0 1756.0 851.0 C1758.0 851.0 1758.0 850.7 1760.0 850.7 C1762.0 850.7 1762.0 850.7 1764.0 850.7 C1766.0 850.7 1766.0 851.3 1768.0 851.3 C1770.0 851.3 1770.0 851.9 1772.0 851.9 C1774.0 851.9 1774.0 851.7 1776.0 851.7 C1778.0 851.7 1778.0 850.6 1780.0 850.6 C1782.0 850.6 1782.0 849.9 1784.0 849.9 C1786.0 849.9 1786.0 850.1 1788.0 850.1 C1790.0 850.1 1790.0 850.9 1792.0 850.9 C1794.0 850.9 1794.0 851.4 1796.0 851.4 C1798.0 851.4 1798.0 851.4 1800.0 851.4 C1802.0 851.4 1802.0 851.6 1804.0 851.6 C1806.0 851.6 1806.0 852.1 1808.0 852.1 C1810.0 852.1 1810.0 852.3 1812.0 852.3 C1814.0 852.3 1814.0 851.7 1816.0 851.7 C1818.0 851.7 1818.0 850.7 1820.0 850.7 C1822.0 850.7 1822.0 850.4 1824.0 850.4 C1826.0 850.4 1826.0 851.1 1828.0 851.1 C1830.0 851.1 1830.0 851.9 1832.0 851.9 C1834.0 851.9 1834.0 852.0 1836.0 852.0 C1838.0 852.0 1838.0 851.5 1840.0 851.5 C1842.0 851.5 1842.0 851.1 1844.0 851.1 C1846.0 851.1 1846.0 851.1 1848.0 851.1 C1850.0 851.1 1850.0 851.0 1852.0 851.0 C1854.0 851.0 1854.0 850.3 1856.0 850.3 C1858.0 850.3 1858.0 849.8 1860.0 849.8 C1862.0 849.8 1862.0 850.2 1864.0 850.2 C1866.0 850.2 1866.0 851.3 1868.0 851.3 C1870.0 851.3 1870.0 852.1 1872.0 852.1 C1874.0 852.1 1874.0 851.9 1876.0 851.9 C1878.0 851.9 1878.0 851.2 1880.0 851.2 C1882.0 851.2 1882.0 850.9 1884.0 850.9 C1886.0 850.9 1886.0 851.2 1888.0 851.2 C1890.0 851.2 1890.0 851.3 1892.0 851.3 C1894.0 851.3 1894.0 851.1 1896.0 851.1 C1898.0 851.1 1898.0 851.0 1900.0 851.0 C1902.0 851.0 1902.0 851.7 1904.0 851.7 C1906.0 851.7 1906.0 852.5 1908.0 852.5 C1910.0 852.5 1910.0 852.5 1912.0 852.5 C1914.0 852.5 1914.0 851.5 1916.0 851.5 C1918.0 851.5 1918.0 850.4 1920.0 850.4 C1922.0 850.4 1922.0 850.3 1924.0 850.3 C1926.0 850.3 1926.0 850.7 1928.0 850.7 C1930.0 850.7 1930.0 850.9 1932.0 850.9 C1934.0 850.9 1934.0 850.8 1936.0 850.8 C1938.0 850.8 1938.0 850.8 1940.0 850.8 C1942.0 850.8 1942.0 851.4 1944.0 851.4 C1946.0 851.4 1946.0 851.8 1948.0 851.8 C1950.0 851.8 1950.0 851.4 1952.0 851.4 C1954.0 851.4 1954.0 850.4 1956.0 850.4 C1958.0 850.4 1958.0 850.0 1960.0 850.0 C1962.0 850.0 1962.0 850.7 1964.0 850.7 C1966.0 850.7 1966.0 851.7 1968.0 851.7 C1970.0 851.7 1970.0 852.1 1972.0 852.1 C1974.0 852.1 1974.0 851.9 1976.0 851.9 C1978.0 851.9 1978.0 851.8 1980.0 851.8 C1982.0 851.8 1982.0 852.0 1984.0 852.0 C1986.0 852.0 1986.0 851.9 1988.0 851.9 C1990.0 851.9 1990.0 851.1 1992.0 851.1 C1994.0 851.1 1994.0 850.3 1996.0 850.3 C1998.0 850.3 1998.0 850.3 2000.0 850.3 C2002.0 850.3 2002.0 851.2 2004.0 851.2 C2006.0 851.2 2006.0 851.9 2008.0 851.9 C2010.0 851.9 2010.0 851.7 2012.0 851.7 C2014.0 851.7 2014.0 851.0 2016.0 851.0 C2018.0 851.0 2018.0 850.6 2020.0 850.6 C2022.0 850.6 2022.0 850.7 2024.0 850.7 C2026.0 850.7 2026.0 850.7 2028.0 850.7 C2030.0 850.7 2030.0 850.3 2032.0 850.3 C2034.0 850.3 2034.0 850.2 2036.0 850.2 C2038.0 850.2 2038.0 851.0 2040.0 851.0 C2042.0 851.0 2042.0 852.1 2044.0 852.1 C2046.0 852.1 2046.0 852.5 2048.0 852.5 C2050.0 852.5 2050.0 851.9 2052.0 851.9 C2054.0 851.9 2054.0 851.1 2056.0 851.1 C2058.0 851.1 2058.0 850.9 2060.0 850.9 C2062.0 850.9 2062.0 851.3 2064.0 851.3 C2066.0 851.3 2066.0 851.4 2068.0 851.4 C2070.0 851.4 2070.0 851.2 2072.0 851.2 C2074.0 851.2 2074.0 851.2 2076.0 851.2 C2080.0 851.2 2080.0 850.3 2084.0 850.3 C2087.8 850.3 2087.8 850.0 2091.5 850.0 C2096.2 850.0 2096.2 820.1 2100.9 820.1 C2106.4 820.1 2106.4 860.6 2112.0 860.6 C2118.8 860.6 2118.8 861.7 2125.7 861.7 C2131.3 861.7 2131.3 851.0 2137.0 851.0 C2141.7 851.0 2141.7 849.7 2146.3 849.7 C2154.2 849.7 2154.2 850.3 2162.0 850.3 C2169.7 850.3 2169.7 850.8 2177.3 850.8 C2181.7 850.8 2181.7 848.5 2186.0 848.5 C2190.2 848.5 2190.2 845.4 2194.5 845.4 C2197.2 845.4 2197.2 847.5 2200.0 847.5 C2202.8 847.5 2202.8 852.2 2205.6 852.2 C2211.2 852.2 2211.2 850.2 2216.8 850.2 C2220.4 850.2 2220.4 851.2 2224.0 851.2 C2227.3 851.2 2227.3 852.8 2230.6 852.8 C2235.3 852.8 2235.3 847.3 2240.0 847.3 C2249.0 847.3 2249.0 849.3 2258.0 849.3 C2268.2 849.3 2268.2 849.8 2278.4 849.8 C2283.2 849.8 2283.2 849.8 2288.0 849.8" fill="none" stroke="#3b689b" stroke-width="2"/>
<text x="388" y="858.3" class="nv">2008</text><text x="669" y="858.3" class="nv">2010</text><text x="950" y="858.3" class="nv">2012</text><text x="1230" y="858.3" class="nv">2014</text><text x="1511" y="858.3" class="nv">2016</text><text x="1792" y="858.3" class="nv">2018</text><text x="2071.7" y="858.3" class="nv">2020</text>
<rect x="2085.5" y="817" width="201" height="49.5" fill="#6685c2" fill-opacity="0.3"/>
<rect x="2085.2" y="817.2" width="201.8" height="50" fill="none" stroke="#cbcbcb" stroke-width="2"/>
<g id="h1"><rect x="2077" y="827" width="16" height="30" fill="#f2f2f2" stroke="#999" stroke-width="2"/><path d="M2083 833 V850 M2087 833 V850" stroke="#808080" stroke-width="1.8"/></g>
<g id="h2"><rect x="2279" y="827" width="16" height="30" fill="#f2f2f2" stroke="#999" stroke-width="2"/><path d="M2285 833 V850 M2289 833 V850" stroke="#808080" stroke-width="1.8"/></g>
<!-- footer -->
<text x="53" y="921.5" class="fti">Shaded areas indicate U.S. recessions.</text>
<text x="969" y="921.5" class="ft">Source: U.S. Bureau of Labor Statistics</text>
<text x="1935" y="921.5" class="ft" style="font-size:24.4px;letter-spacing:0.65px">fred.stlouisfed.org</text>
<path d="M2259.5 925 V918 H2266.5 M2273.5 918 H2280.5 V925 M2280.5 931.3 V938.3 H2273.5 M2266.5 938.3 H2259.5 V931.3" fill="none" stroke="#1a1a1a" stroke-width="3.4"/>
</svg>
</body></html>
